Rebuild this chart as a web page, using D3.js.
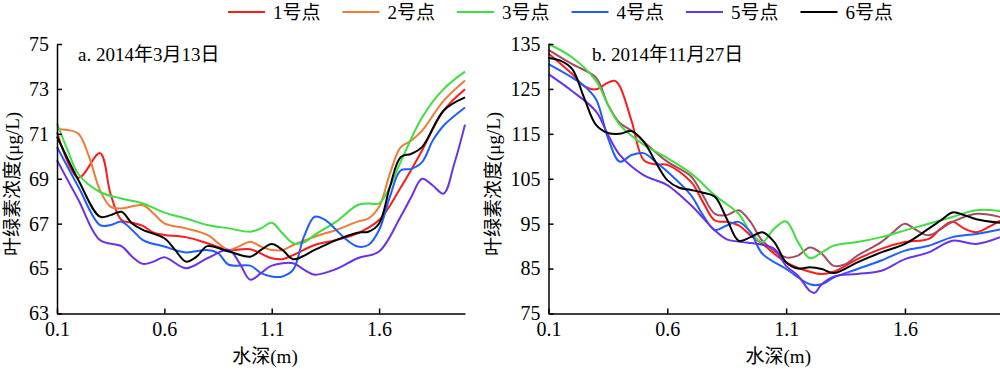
<!DOCTYPE html>
<html><head><meta charset="utf-8">
<script src="https://cdn.jsdelivr.net/npm/d3@7"></script>
<style>
body{margin:0;background:#fff}
text{font-family:"Liberation Serif","Times New Roman","Noto Sans CJK SC",serif;fill:#000}
</style></head>
<body><svg id="c" width="1000" height="369"></svg>
<script>
// ---- data ----
const seriesNames = ["1号点","2号点","3号点","4号点","5号点","6号点"];
const colorsA = ["#ff1a1a","#f07a36","#3ee03e","#1f5eff","#6a30f2","#000000"];
const colorsB = ["#ff1a1a","#a64a62","#3ee03e","#1f5eff","#6a30f2","#000000"];
const legendColors = ["#ff1a1a","#f07a36","#3ee03e","#1f5eff","#6a30f2","#000000"];
const xTicks = [0.1,0.6,1.1,1.6];
const yTicksA = [63,65,67,69,71,73,75];
const yTicksB = [75,85,95,105,115,125,135];
const titleA = "a. 2014年3月13日";
const titleB = "b. 2014年11月27日";

// panel a (depth m, chl µg/L)
const a1 = [[0.1,71.07],[0.2,69.05],[0.3,70.14],[0.35,68.3],[0.4,67.16],[0.45,67.04],[0.5,66.9],[0.55,66.6],[0.6,66.5],[0.7,66.4],[0.8,66.13],[0.9,65.83],[1.0,65.86],[1.1,65.46],[1.15,65.42],[1.2,65.6],[1.3,66.05],[1.4,66.27],[1.5,66.57],[1.6,67.16],[1.7,68.6],[1.8,70.26],[1.9,72.03],[2.0,72.99]];
const a2 = [[0.1,71.2],[0.15,71.17],[0.2,71.0],[0.25,69.96],[0.3,68.49],[0.35,67.75],[0.4,67.68],[0.5,67.82],[0.55,67.45],[0.6,67.01],[0.7,66.79],[0.8,66.5],[0.9,65.83],[0.95,66.0],[1.0,66.2],[1.05,65.98],[1.1,65.83],[1.15,65.83],[1.2,66.05],[1.3,66.42],[1.4,66.72],[1.5,67.09],[1.55,67.23],[1.6,67.75],[1.65,69.22],[1.7,70.4],[1.75,70.7],[1.8,71.14],[1.9,72.47],[2.0,73.38]];
const a3 = [[0.1,71.46],[0.15,70.26],[0.2,69.2],[0.3,68.41],[0.4,68.12],[0.5,67.9],[0.6,67.49],[0.7,67.23],[0.8,66.94],[0.9,66.79],[1.0,66.64],[1.05,66.79],[1.1,67.04],[1.15,66.57],[1.2,66.13],[1.25,66.16],[1.3,66.5],[1.4,67.09],[1.5,67.83],[1.55,67.9],[1.6,67.9],[1.65,68.63],[1.7,69.74],[1.8,71.73],[1.9,72.99],[2.0,73.77]];
const a4 = [[0.1,70.41],[0.2,68.63],[0.3,66.94],[0.35,66.94],[0.4,67.09],[0.45,66.72],[0.5,66.27],[0.6,65.98],[0.7,65.72],[0.8,65.83],[0.85,65.69],[0.9,65.17],[1.0,65.13],[1.05,64.8],[1.1,64.65],[1.15,64.65],[1.2,64.95],[1.25,66.42],[1.3,67.31],[1.35,67.16],[1.4,66.72],[1.45,66.27],[1.5,65.98],[1.55,66.05],[1.6,66.72],[1.65,68.19],[1.7,69.37],[1.75,69.44],[1.8,69.74],[1.85,70.7],[1.9,71.36],[2.0,72.17]];
const a5 = [[0.1,69.82],[0.2,68.05],[0.3,66.27],[0.4,66.0],[0.45,65.53],[0.5,65.21],[0.55,65.31],[0.6,65.51],[0.7,65.02],[0.8,65.46],[0.9,65.83],[0.95,65.24],[1.0,64.5],[1.05,64.8],[1.1,65.13],[1.2,65.24],[1.25,64.95],[1.3,64.73],[1.4,64.98],[1.5,65.46],[1.6,65.76],[1.7,67.31],[1.75,68.19],[1.8,69.0],[1.85,68.7],[1.9,68.34],[1.95,69.67],[2.0,71.41]];
const a6 = [[0.1,70.88],[0.2,68.93],[0.3,67.31],[0.35,67.38],[0.4,67.53],[0.45,67.01],[0.5,66.72],[0.6,66.35],[0.65,65.83],[0.7,65.31],[0.75,65.53],[0.8,66.0],[0.9,65.76],[1.0,65.53],[1.05,65.83],[1.1,66.09],[1.15,65.83],[1.2,65.42],[1.3,65.83],[1.4,66.27],[1.5,66.6],[1.55,66.64],[1.6,67.01],[1.65,68.63],[1.7,69.96],[1.75,70.11],[1.8,70.41],[1.9,72.03],[2.0,72.62]];

// panel b
const b1 = [[0.1,132.9],[0.2,128.3],[0.25,125.6],[0.3,124.9],[0.35,126.4],[0.38,126.8],[0.4,125.6],[0.45,117.8],[0.5,109.2],[0.55,108.2],[0.6,108.1],[0.7,104.3],[0.75,99.8],[0.8,95.7],[0.85,95.4],[0.9,94.6],[0.95,92.4],[1.0,90.5],[1.1,86.4],[1.2,84.3],[1.25,83.8],[1.3,84.3],[1.4,87.1],[1.5,89.4],[1.6,90.9],[1.7,91.6],[1.75,93.9],[1.8,95.4],[1.85,93.9],[1.9,93.1],[1.95,94.2],[2.0,95.7]];
const b2 = [[0.1,133.7],[0.2,130.5],[0.3,127.5],[0.35,121.5],[0.4,117.4],[0.45,115.7],[0.5,113.3],[0.6,108.8],[0.7,105.5],[0.75,101.3],[0.8,97.2],[0.85,96.9],[0.9,98.0],[0.95,95.4],[1.0,91.2],[1.1,87.5],[1.15,87.9],[1.2,89.7],[1.25,88.3],[1.3,85.6],[1.35,86.0],[1.4,87.9],[1.5,90.9],[1.55,93.1],[1.6,95.0],[1.65,93.5],[1.7,92.4],[1.8,95.4],[1.9,97.2],[2.0,96.5]];
const b3 = [[0.1,135.0],[0.2,132.0],[0.3,126.8],[0.35,121.5],[0.4,117.0],[0.5,112.6],[0.6,109.6],[0.7,106.2],[0.8,101.3],[0.9,97.2],[0.95,93.1],[1.0,90.9],[1.05,93.9],[1.1,95.5],[1.15,90.9],[1.2,87.3],[1.25,88.6],[1.3,90.1],[1.4,90.9],[1.5,92.0],[1.6,93.5],[1.7,95.0],[1.8,96.5],[1.9,98.0],[2.0,97.8]];
const b4 = [[0.1,130.5],[0.2,127.5],[0.25,125.7],[0.3,122.7],[0.35,114.1],[0.4,108.8],[0.45,110.3],[0.5,110.7],[0.55,108.8],[0.6,106.6],[0.7,101.3],[0.75,96.9],[0.8,93.6],[0.85,94.6],[0.9,95.4],[0.95,93.1],[1.0,88.3],[1.1,84.9],[1.2,81.5],[1.25,81.5],[1.3,83.0],[1.4,84.9],[1.5,86.8],[1.6,89.0],[1.7,90.1],[1.8,92.0],[1.9,92.7],[2.0,93.7]];
const b5 = [[0.1,128.3],[0.2,124.5],[0.3,120.0],[0.35,114.8],[0.4,110.3],[0.5,105.8],[0.55,104.7],[0.6,103.6],[0.7,99.1],[0.8,93.5],[0.85,91.5],[0.9,91.0],[1.0,90.3],[1.05,89.4],[1.1,85.6],[1.15,83.4],[1.2,80.0],[1.22,79.6],[1.25,81.5],[1.3,83.2],[1.4,83.8],[1.5,84.5],[1.6,87.1],[1.7,88.6],[1.8,91.2],[1.9,90.5],[2.0,92.0]];
const b6 = [[0.1,131.9],[0.15,131.3],[0.2,129.4],[0.25,123.0],[0.3,117.0],[0.35,115.2],[0.4,115.0],[0.45,115.6],[0.5,113.3],[0.55,108.8],[0.6,104.7],[0.65,103.0],[0.7,102.5],[0.75,101.9],[0.8,101.0],[0.85,96.1],[0.9,91.2],[0.95,92.0],[1.0,93.1],[1.05,90.9],[1.1,86.4],[1.15,85.0],[1.2,85.3],[1.25,84.9],[1.3,84.0],[1.4,86.4],[1.5,88.6],[1.6,90.5],[1.7,93.9],[1.75,95.7],[1.8,97.5],[1.85,96.9],[1.9,96.0],[2.0,95.2]];

// ---- drawing ----
const svg = d3.select("#c");
const panels = [
  {series:[a1,a2,a3,a4,a5,a6], colors:colorsA, yDomain:[63,75], yTicks:yTicksA, x0:57, x1:465, title:titleA, titleX:78, labelX:13},
  {series:[b1,b2,b3,b4,b5,b6], colors:colorsB, yDomain:[75,135], yTicks:yTicksB, x0:548.5, x1:1000, title:titleB, titleX:592, labelX:494}
];
const yTop = 44, yBot = 313.5;

panels.forEach(p => {
  const x = d3.scaleLinear().domain([0.1,2.0]).range([p.x0,p.x1]);
  const y = d3.scaleLinear().domain(p.yDomain).range([yBot,yTop]);
  const g = svg.append("g");
  const line = d3.line().x(d=>x(d[0])).y(d=>y(d[1])).curve(d3.curveCatmullRom.alpha(0.5));
  p.series.forEach((s,i) => {
    g.append("path").attr("d", line(s)).attr("fill","none")
      .attr("stroke", p.colors[i]).attr("stroke-width", 2);
  });
  const xa = g.append("g").attr("transform",`translate(0,${yBot})`)
    .call(d3.axisBottom(x).tickValues(xTicks).tickFormat(d3.format(".1f")).tickSizeInner(-5).tickSizeOuter(0).tickPadding(8));
  const ya = g.append("g").attr("transform",`translate(${p.x0},0)`)
    .call(d3.axisLeft(y).tickValues(p.yTicks).tickFormat(d3.format("d")).tickSizeInner(-5).tickSizeOuter(0).tickPadding(8));
  [xa,ya].forEach(a => {
    a.selectAll("path.domain").attr("stroke","#000").attr("stroke-width",1.5);
    a.selectAll(".tick line").attr("stroke","#000").attr("stroke-width",1.5);
    a.selectAll("text").attr("font-size",20).attr("font-family",null).attr("fill","#000");
  });
  g.append("text").attr("x",p.titleX).attr("y",61).attr("font-size",19).text(p.title);
  g.append("text").attr("transform",`translate(${p.labelX + 6},184) rotate(-90)`)
    .attr("text-anchor","middle").attr("font-size",19).text("叶绿素浓度(μg/L)");
  g.append("text").attr("x",(p.x0+p.x1)/2+4).attr("y",363).attr("text-anchor","middle")
    .attr("font-size",19).text("水深(m)");
});

// legend
const lg = svg.append("g");
seriesNames.forEach((n,i) => {
  const lx = 228 + i*114.5;
  lg.append("line").attr("x1",lx).attr("x2",lx+37).attr("y1",12).attr("y2",12)
    .attr("stroke",legendColors[i]).attr("stroke-width",2);
  lg.append("text").attr("x",lx+45).attr("y",19).attr("font-size",19).text(n);
});
</script></body></html>
